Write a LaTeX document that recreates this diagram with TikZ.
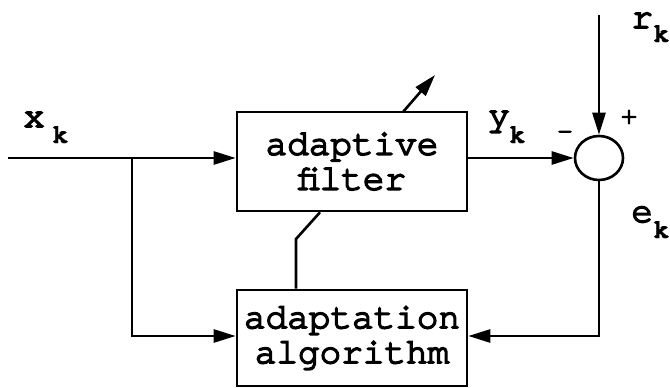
\documentclass[tikz,border=0pt]{standalone}
\usepackage{fontspec}
\usetikzlibrary{arrows.meta,shapes.geometric}
\newfontfamily\monofont[FakeBold=4.5]{texgyrecursor-regular.otf}
\newfontfamily\monobold[FakeBold=1]{texgyrecursor-bold.otf}
\begin{document}
\begin{tikzpicture}[x=1pt,y=-1pt,
  line width=2.6pt,
  arr/.style={-{Triangle[length=22pt,width=13pt]}},
  blk/.style={draw,rectangle,minimum width=230pt,inner sep=0pt,align=center,
    font=\monofont\fontsize{36}{35}\selectfont},
  lab/.style={anchor=base west,inner sep=0pt,font=\monofont\fontsize{36}{36}\selectfont},
  sub/.style={anchor=base west,inner sep=0pt,font=\monobold\fontsize{27}{27}\selectfont},
  sgn/.style={inner sep=0pt,font=\monofont\fontsize{26}{26}\selectfont}]
\useasboundingbox (0,0) rectangle (670,388);
\node[blk,minimum height=99pt] (filt) at (352,161.5) {adaptive\\filter};
\node[blk,minimum height=96pt] (alg) at (352,338) {adaptation\\algorithm};
\node[draw,ellipse,minimum width=48pt,minimum height=44pt,inner sep=0pt] (sum) at (599,158) {};
\coordinate (in) at (8,158);
\coordinate (br) at (132,158);
\coordinate (rtop) at (599,15);
\coordinate (kink) at (296,239);
\coordinate (tune0) at (403,112);
\coordinate (tune1) at (435,75);
% input
\draw[arr] (in) -- (filt.west |- in);
\draw[arr] (br) |- (alg.west |- 0,336);
% filter to sum
\draw[arr] (filt.east |- sum) -- (sum.west);
% reference
\draw[arr] (rtop) -- (sum.north);
% error feedback
\draw[arr] (sum.south) |- (alg.east |- 0,336);
% adaptation link
\draw (alg.north -| kink) -- (kink) -- (filt.south -| 320,0);
\draw[arr] (tune0) -- (tune1);
% labels
\node[lab] (xl) at (22,127) {x};
\node[sub] (xs) at (51,143) {k};
\node[lab] (yl) at (487,126) {y};
\node[sub] (ys) at (508,143) {k};
\node[lab] (rl) at (630,28) {r};
\node[sub] (rs) at (652,42) {k};
\node[lab] (el) at (630,222) {e};
\node[sub] (es) at (652,238) {k};
\node[sgn] (minus) at (565,135) {-};
\node[sgn] (plus) at (629,117) {+};
\end{tikzpicture}
\end{document}
